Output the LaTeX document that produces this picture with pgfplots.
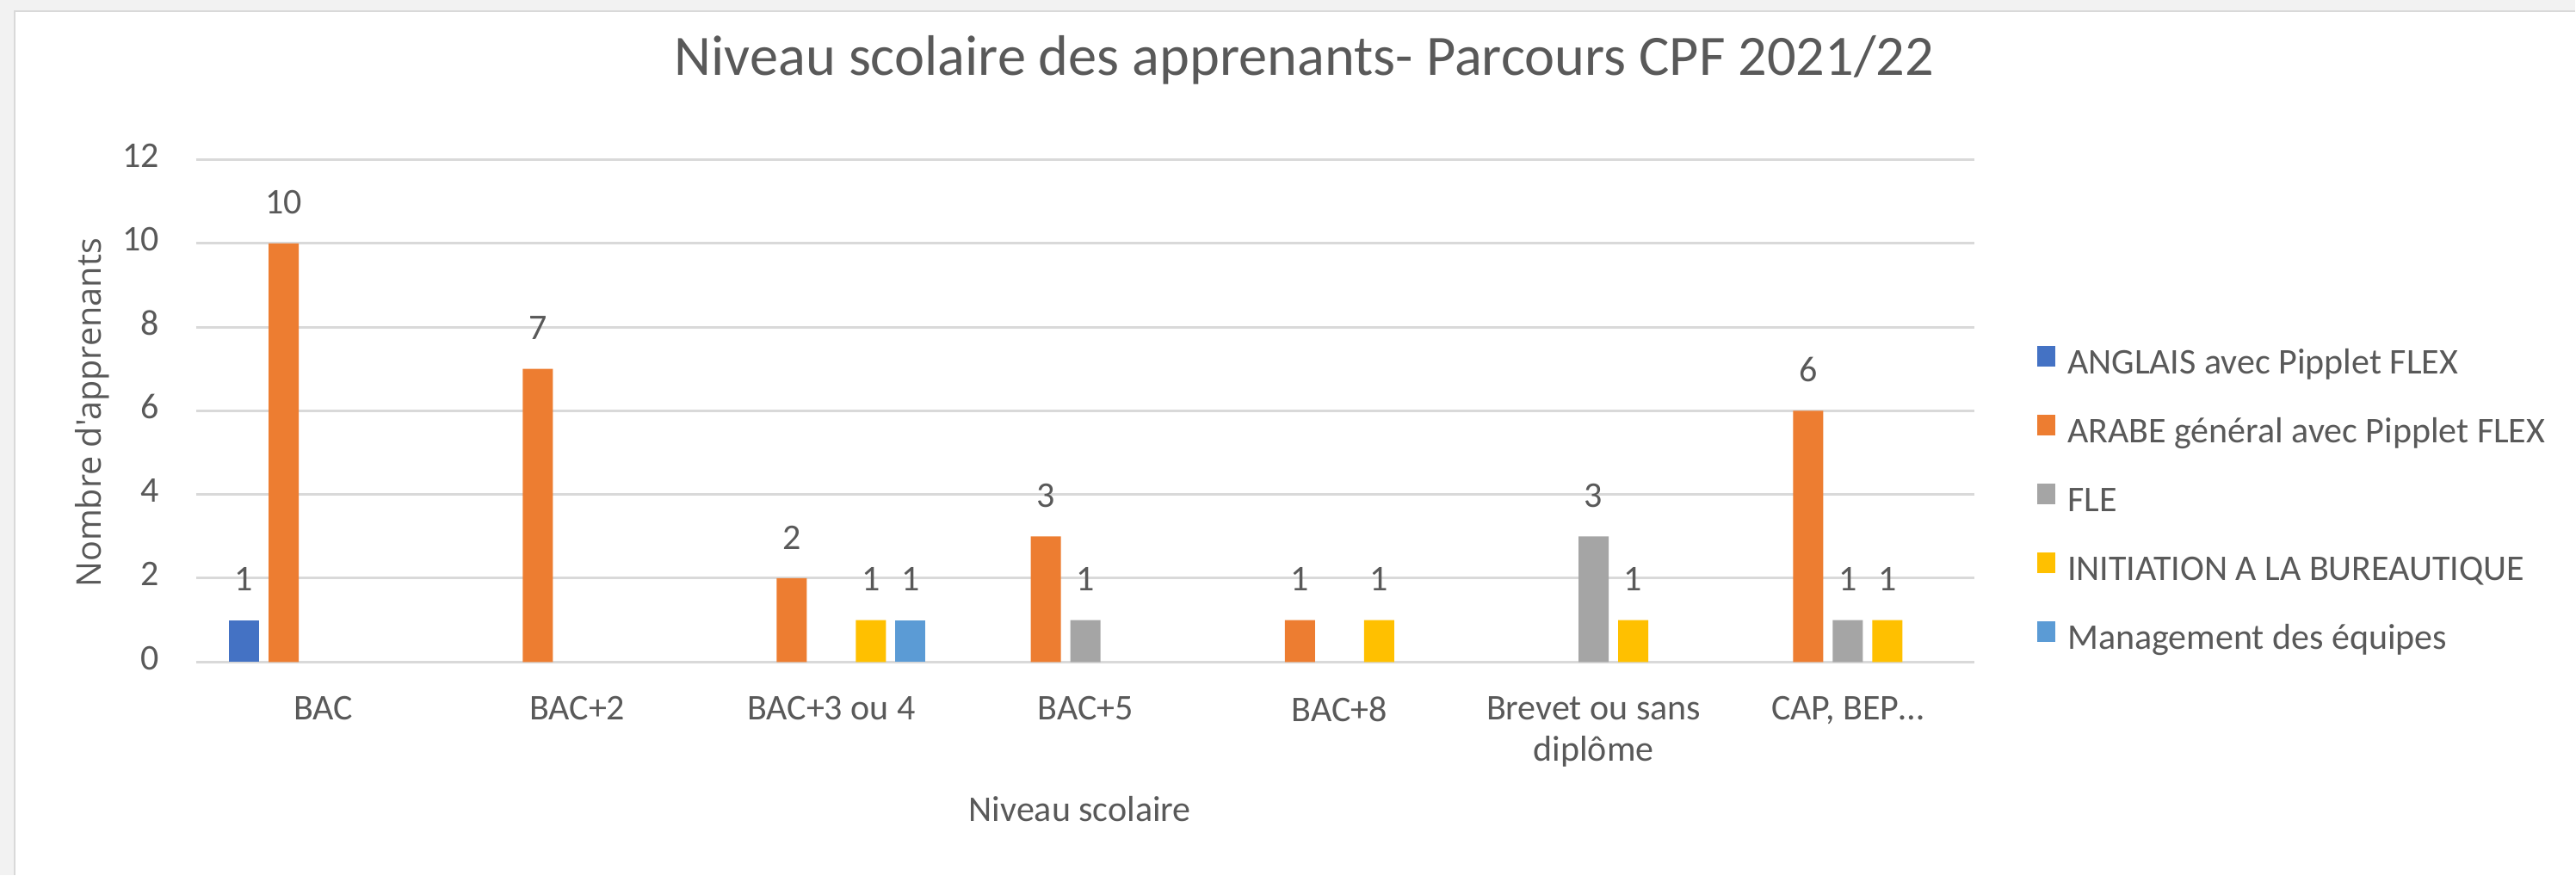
\documentclass[border=0pt]{standalone}
\usepackage{pgfplots}
\pgfplotsset{compat=1.18}
\usepackage{fontspec}
\setmainfont{Carlito}
\newfontfamily\ylabfont{Open Sans}
\definecolor{txt}{HTML}{595959}
\definecolor{gridc}{HTML}{D9D9D9}
\definecolor{bg}{HTML}{F2F2F2}
\definecolor{cA}{HTML}{4472C4}
\definecolor{cB}{HTML}{ED7D31}
\definecolor{cC}{HTML}{A5A5A5}
\definecolor{cD}{HTML}{FFC000}
\definecolor{cE}{HTML}{5B9BD5}
\begin{document}
\begin{tikzpicture}
\fill[bg] (0,0) rectangle (748.25pt,254.25pt);
\fill[white] (4.25pt,0) rectangle (748.25pt,251pt);
\draw[gridc, line width=0.4pt] (4.25pt,0) -- (4.25pt,251pt) -- (748.25pt,251pt);
\useasboundingbox (0,0) rectangle (748.25pt,254.25pt);
\begin{axis}[
  at={(57pt,61.875pt)}, anchor=south west,
  scale only axis, width=516.75pt, height=146pt,
  ybar, bar width=8.75pt,
  xmin=-0.5, xmax=6.5, ymin=0, ymax=12,
  xtick={0,...,6},
  xticklabels={BAC, BAC+2, BAC+3 ou 4, BAC+5, BAC+8, {Brevet ou sans\\diplôme}, {CAP, BEP…}},
  ytick={0,2,...,12},
  ymajorgrids, major grid style={gridc, line width=0.75pt},
  axis line style={draw=none}, major tick length=0pt,
  /pgf/number format/assume math mode=true,
  tick label style={font=\fontsize{10.5}{12}\selectfont, text=txt},
  yticklabel style={anchor=base east, inner sep=0pt, xshift=-10.5pt, yshift=-2.25pt},
  xticklabel style={anchor=north, inner sep=0pt, yshift=-9.9pt, align=center},
  nodes near coords,
  every node near coord/.append style={font=\fontsize{10.5}{12}\selectfont, text=txt, anchor=base, inner sep=0pt, yshift=8.5pt},
  title={Niveau scolaire des apprenants- Parcours CPF 2021/22},
  title style={at={(axis description cs:0.6231,1.1259)}, anchor=base, font=\fontsize{16.6}{20}\selectfont, text=txt, inner sep=0pt},
  xlabel={Niveau scolaire},
  xlabel style={at={(axis description cs:0.4969,-0.3176)}, anchor=base, font=\fontsize{10.5}{12}\selectfont, text=txt, inner sep=0pt},
  ylabel={Nombre d'apprenants},
  ylabel style={at={(axis description cs:-0.0532,0.4957)}, anchor=base, font=\ylabfont\fontsize{9.9}{12}\selectfont, text=txt, inner sep=0pt},
  legend cell align=left,
  legend image code/.code={\fill[#1] (0pt,-0.25pt) rectangle (5.25pt,5.75pt);},
  legend style={at={(1.0348,0.631)}, anchor=north west, draw=none, fill=none, inner sep=0pt,
    font=\fontsize{10.5}{12}\selectfont, text=txt, row sep=8.75pt,
    nodes={inner sep=0pt, text height=8pt, text depth=3pt},
    /tikz/every odd column/.append style={column sep=3.5pt}},
]
\addplot[fill=cA, draw=none, bar shift=-23pt] coordinates {(0,1)};
\addplot[fill=cB, draw=none, bar shift=-11.5pt] coordinates {(0,10) (1,7) (2,2) (3,3) (4,1) (6,6)};
\addplot[fill=cC, draw=none, bar shift=0pt] coordinates {(3,1) (5,3) (6,1)};
\addplot[fill=cD, draw=none, bar shift=11.5pt] coordinates {(2,1) (4,1) (5,1) (6,1)};
\addplot[fill=cE, draw=none, bar shift=23pt] coordinates {(2,1)};
\legend{ANGLAIS avec Pipplet FLEX, ARABE général avec Pipplet FLEX, FLE, INITIATION A LA BUREAUTIQUE, Management des équipes}
\end{axis}
\end{tikzpicture}
\end{document}
